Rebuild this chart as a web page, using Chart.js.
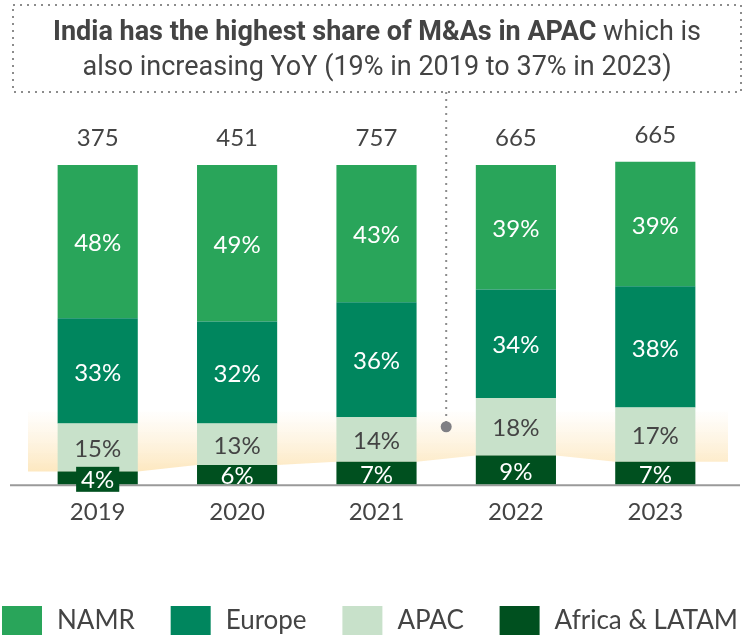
<!DOCTYPE html>
<html>
<head>
<meta charset="utf-8">
<script src="https://cdn.jsdelivr.net/npm/chart.js@4"></script>
<style>
    html, body { margin: 0; padding: 0; background: #fff; }
    #wrap { width: 750px; height: 638px; position: relative; }
</style>
</head>
<body>
<div id="wrap"><canvas id="ma-chart"></canvas></div>
<script>
// data
const years = ["2019", "2020", "2021", "2022", "2023"];
const totals = [375, 451, 757, 665, 665];
const namr = [48, 49, 43, 39, 39];
const europe = [33, 32, 36, 34, 38];
const apac = [15, 13, 14, 18, 17];
const africa_latam = [4, 6, 7, 9, 7];

const TEXT = "#444444";
const FONT = "Lato, 'Open Sans', sans-serif";
const TITLE_FONT = "'Liberation Sans Narrow', Roboto, sans-serif";

// highlight band behind APAC, top at this share level
const band_top_value = 23.5;

/**
 * Title box, dotted connector, axis line and highlight band.
 */
const decor_plugin = {
    id: "decor",
    beforeDatasetsDraw(chart) {
        const ctx = chart.ctx;
        const x = chart.scales.x;
        const y = chart.scales.y;
        const area = chart.chartArea;
        const meta = chart.getDatasetMeta(0);
        const half = meta.data[0].width / 2;

        // band
        const top = y.getPixelForValue(band_top_value);
        const grad = ctx.createLinearGradient(0, top, 0, y.getPixelForValue(4));
        grad.addColorStop(0, "rgba(253, 236, 205, 0)");
        grad.addColorStop(1, "rgba(253, 232, 192, 1)");
        ctx.save();
        ctx.beginPath();
        ctx.moveTo(area.left, top);
        ctx.lineTo(area.right + 3, top);
        ctx.lineTo(area.right + 3, y.getPixelForValue(africa_latam[africa_latam.length - 1]));
        for (let i = years.length - 1; i >= 0; i--) {
            const px = x.getPixelForValue(i);
            const py = y.getPixelForValue(africa_latam[i]);
            ctx.lineTo(px + half, py);
            ctx.lineTo(px - half, py);
        }
        ctx.lineTo(area.left, y.getPixelForValue(africa_latam[0]));
        ctx.closePath();
        ctx.fillStyle = grad;
        ctx.fill();

        // axis line
        ctx.strokeStyle = "#9a9a9a";
        ctx.lineWidth = 2;
        ctx.beginPath();
        ctx.moveTo(10, area.bottom + 1);
        ctx.lineTo(740, area.bottom + 1);
        ctx.stroke();
        ctx.restore();
    },
    afterDraw(chart) {
        const ctx = chart.ctx;
        const x = chart.scales.x;
        const y = chart.scales.y;

        // title box
        const box = { l: 13, t: 5, r: 741, b: 92 };
        ctx.save();
        ctx.strokeStyle = "#8c8c8c";
        ctx.lineWidth = 2;
        ctx.setLineDash([2, 5]);
        ctx.strokeRect(box.l, box.t, box.r - box.l, box.b - box.t);

        // connector to 2022 APAC
        const cx = (x.getPixelForValue(2) + x.getPixelForValue(3)) / 2;
        const cy = y.getPixelForValue(africa_latam[3] + apac[3] / 2);
        ctx.beginPath();
        ctx.moveTo(cx, box.b);
        ctx.lineTo(cx, cy);
        ctx.stroke();
        ctx.setLineDash([]);
        ctx.fillStyle = "#7f7f84";
        ctx.beginPath();
        ctx.arc(cx, cy, 5.5, 0, Math.PI * 2);
        ctx.fill();

        // title text
        ctx.fillStyle = TEXT;
        ctx.textBaseline = "middle";
        const bold_part = "India has the highest share of M&As in APAC";
        const reg_part = " which is";
        ctx.font = "bold 27px " + TITLE_FONT;
        const w1 = ctx.measureText(bold_part).width;
        ctx.font = "27px " + TITLE_FONT;
        const w2 = ctx.measureText(reg_part).width;
        const mid = (box.l + box.r) / 2;
        const tx = mid - (w1 + w2) / 2;
        ctx.textAlign = "left";
        ctx.font = "bold 27px " + TITLE_FONT;
        ctx.fillText(bold_part, tx, 33);
        ctx.font = "27px " + TITLE_FONT;
        ctx.fillText(reg_part, tx + w1, 33);
        ctx.textAlign = "center";
        ctx.fillText("also increasing YoY (19% in 2019 to 37% in 2023)", mid, 68);

        // legend, spread across the width, NAMR first
        const items = chart.data.datasets.slice().reverse();
        ctx.font = "26px " + FONT;
        const box_w = 40, box_h = 29, text_gap = 15;
        const text_ws = items.map((d) => ctx.measureText(d.label).width);
        const used = items.length * (box_w + text_gap) + text_ws.reduce((a, b) => a + b, 0);
        const gap = (736 - used) / (items.length - 1);
        let lx = 2;
        ctx.textAlign = "left";
        items.forEach((d, i) => {
            ctx.fillStyle = d.backgroundColor;
            ctx.fillRect(lx, 606, box_w, box_h);
            ctx.fillStyle = TEXT;
            ctx.fillText(d.label, lx + box_w + text_gap, 621);
            lx += box_w + text_gap + text_ws[i] + gap;
        });
        ctx.restore();
    }
};

/**
 * Segment labels and totals on top.
 */
const labels_plugin = {
    id: "seglabels",
    afterDatasetsDraw(chart) {
        const ctx = chart.ctx;
        ctx.save();
        ctx.font = "24px " + FONT;
        ctx.textAlign = "center";
        ctx.textBaseline = "middle";
        chart.data.datasets.forEach((ds, di) => {
            const meta = chart.getDatasetMeta(di);
            meta.data.forEach((el, i) => {
                const cy = (el.y + el.base) / 2;
                const txt = ds.data[i] + "%";
                if (ds.label === "Africa & LATAM" && ds.data[i] < 5) {
                    const w = ctx.measureText(txt).width + 10;
                    ctx.fillStyle = ds.backgroundColor;
                    ctx.fillRect(el.x - w / 2, cy - 11, w, 25);
                }
                ctx.fillStyle = ds.label === "APAC" ? TEXT : "#ffffff";
                ctx.fillText(txt, el.x, cy + 2);
            });
        });
        const top_meta = chart.getDatasetMeta(chart.data.datasets.length - 1);
        ctx.fillStyle = TEXT;
        top_meta.data.forEach((el, i) => {
            ctx.fillText(String(totals[i]), el.x, el.y - 27);
        });
        ctx.restore();
    }
};

new Chart(document.getElementById("ma-chart"), {
    type: "bar",
    data: {
        labels: years,
        datasets: [
            { label: "Africa & LATAM", data: africa_latam, backgroundColor: "#00501f" },
            { label: "APAC", data: apac, backgroundColor: "#c8e1ca" },
            { label: "Europe", data: europe, backgroundColor: "#00865e" },
            { label: "NAMR", data: namr, backgroundColor: "#29a55a" }
        ]
    },
    options: {
        responsive: true,
        maintainAspectRatio: false,
        animation: false,
        layout: { padding: { top: 165, left: 28, right: 25, bottom: 97 } },
        datasets: { bar: { barPercentage: 0.575, categoryPercentage: 1, clip: false } },
        plugins: {
            legend: { display: false },
            tooltip: { enabled: false }
        },
        scales: {
            x: {
                stacked: true,
                grid: { display: false, drawTicks: false },
                border: { display: false },
                ticks: { color: TEXT, font: { size: 24, family: FONT }, padding: 14 }
            },
            y: {
                stacked: true,
                display: false,
                min: 0,
                max: 100
            }
        }
    },
    plugins: [decor_plugin, labels_plugin]
});
</script>
</body>
</html>
